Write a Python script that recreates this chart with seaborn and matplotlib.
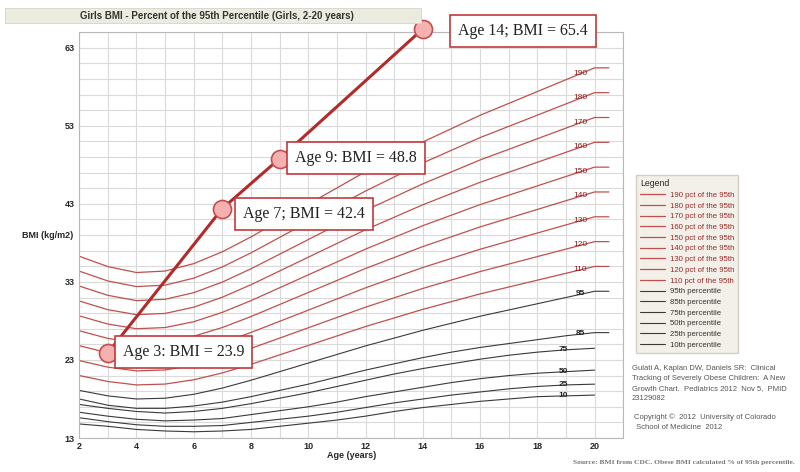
import numpy as np
import pandas as pd
import matplotlib
matplotlib.use("Agg")
import matplotlib.pyplot as plt
import seaborn as sns

# CDC girls BMI percentiles
ages = [2, 3, 4, 5, 6, 7, 8, 9, 10, 11, 12, 13, 14, 15, 16, 17, 18, 19, 20]
p95 = [19.1, 18.4, 18.0, 18.1, 18.6, 19.4, 20.4, 21.5, 22.6, 23.7, 24.8, 25.8, 26.8, 27.7, 28.6, 29.4, 30.2, 31.0, 31.8]
p85 = [18.0, 17.2, 16.8, 16.8, 17.1, 17.6, 18.3, 19.1, 19.9, 20.8, 21.7, 22.5, 23.3, 24.0, 24.6, 25.1, 25.6, 26.1, 26.5]
p75 = [17.3, 16.8, 16.4, 16.2, 16.4, 16.8, 17.4, 18.1, 18.8, 19.6, 20.4, 21.2, 21.9, 22.5, 23.1, 23.6, 24.0, 24.3, 24.5]
p50 = [16.3, 15.8, 15.4, 15.2, 15.3, 15.5, 16.0, 16.5, 17.0, 17.6, 18.3, 18.9, 19.5, 20.1, 20.6, 21.0, 21.3, 21.5, 21.7]
p25 = [15.6, 15.1, 14.7, 14.5, 14.5, 14.6, 15.0, 15.4, 15.8, 16.3, 16.9, 17.5, 18.0, 18.5, 18.9, 19.3, 19.6, 19.8, 19.9]
p10 = [14.8, 14.5, 14.1, 13.9, 13.8, 13.9, 14.1, 14.5, 14.9, 15.3, 15.8, 16.4, 16.9, 17.3, 17.7, 18.0, 18.3, 18.4, 18.5]

pct_of_95 = [190, 180, 170, 160, 150, 140, 130, 120, 110]

# patient
pt_age = [3, 7, 9, 14]
pt_bmi = [23.9, 42.4, 48.8, 65.4]
pt_text = ["Age 3: BMI = 23.9", "Age 7; BMI = 42.4", "Age 9: BMI = 48.8", "Age 14; BMI = 65.4"]

RED = "#c0504d"
DARK = "#3a3a3a"

sns.set_style("white")
plt.rcParams["font.family"] = ["Liberation Sans", "DejaVu Sans"]

fig = plt.figure(figsize=(8, 4.72), dpi=100)
ax = fig.add_axes([0.099, 0.072, 0.68, 0.86])

ext_ages = ages + [20.5]

# red curves: percent of the 95th
for p in pct_of_95:
    vals = [v * p / 100 for v in p95]
    sns.lineplot(x=ext_ages, y=vals + [vals[-1]], color=RED, lw=0.9, ax=ax,
                 label=f"{p} pct of the 95th")
    yl = np.interp(19.5, ages, vals)
    ax.text(19.5, yl + 0.05, str(p), color="#8b1a1a", fontsize=6, ha="center", va="center")

blacks = [("95th", p95, True), ("85th", p85, True), ("75th", p75, False),
          ("50th", p50, False), ("25th", p25, False), ("10th", p10, False)]
for name, vals, ext in blacks:
    xs = ext_ages if ext else ages
    ys = vals + [vals[-1]] if ext else vals
    sns.lineplot(x=xs, y=ys, color=DARK, lw=0.8, ax=ax, label=f"{name} percentile")
    lx = 19.5 if ext else 18.9
    yl = np.interp(lx, ages, vals)
    ax.text(lx, yl + 0.05, name[:-2], color="#222222", fontsize=6, ha="center", va="center",
            fontweight="bold")

# patient trajectory
sns.lineplot(x=pt_age, y=pt_bmi, color="#b22b2b", lw=2.2, ax=ax, zorder=5)
ax.plot(pt_age, pt_bmi, "o", ms=13, mfc="#f7b0b0", mec=RED, mew=1.2, zorder=6, clip_on=False)

box_pos = [(5.64, 24.0), (9.85, 41.7), (11.67, 48.9), (17.5, 65.2)]
for (bx, by), t in zip(box_pos, pt_text):
    ax.text(bx, by, t, family=["Liberation Serif", "DejaVu Serif"], fontsize=11.5,
            ha="center", va="center", color="#222222", zorder=7,
            bbox=dict(boxstyle="square,pad=0.5", fc="white", ec="#c0393b", lw=1.2))

ax.set_xlim(2, 21)
ax.set_ylim(13, 65)
ax.set_xticks(range(2, 21, 2))
ax.set_yticks([13, 23, 33, 43, 53, 63])
ax.set_xticks(range(2, 22), minor=True)
ax.set_yticks(range(13, 66, 2), minor=True)
ax.grid(which="both", color="#dadada", lw=0.8)
ax.set_axisbelow(True)
ax.tick_params(which="both", length=0, labelsize=6.5, pad=3)
for lab in ax.get_xticklabels() + ax.get_yticklabels():
    lab.set_fontweight("bold")
for s in ax.spines.values():
    s.set_color("#b8b8b8")
    s.set_linewidth(0.8)
ax.set_xlabel("")
ax.set_ylabel("")

handles, labels = ax.get_legend_handles_labels()
leg = fig.legend(handles[:15], labels[:15], loc="upper left", bbox_to_anchor=(0.79, 0.637),
                 fontsize=5.6, title="Legend", title_fontsize=6.3, alignment="left",
                 handlelength=3.3, handletextpad=0.6, labelspacing=0.42, frameon=True,
                 fancybox=False, facecolor="#efede3", edgecolor="#c8c6b8", borderpad=0.5)
if ax.get_legend():
    ax.get_legend().remove()
for txt in leg.get_texts():
    txt.set_color("#9c2a2a" if "pct" in txt.get_text() else "#333333")

# title banner
fig.patches.append(plt.Rectangle((0.006, 0.951), 0.52, 0.032, transform=fig.transFigure,
                                 fc="#ecebe0", ec="#d6d4c8", lw=0.6))
fig.text(0.1, 0.967, "Girls BMI - Percent of the 95th Percentile (Girls, 2-20 years)",
         fontsize=7, fontweight="bold", color="#333333", va="center")

fig.text(0.028, 0.502, "BMI (kg/m2)", fontsize=6.5, fontweight="bold", va="center")
fig.text(0.439, 0.034, "Age (years)", fontsize=6.5, fontweight="bold", ha="center", va="center")

fig.text(0.79, 0.226, "Gulati A, Kaplan DW, Daniels SR:  Clinical\nTracking of Severely Obese Children:  A New\n"
         "Growth Chart.  Pediatrics 2012  Nov 5,  PMID\n23129082",
         fontsize=5.5, color="#555555", va="top", linespacing=1.6)
fig.text(0.793, 0.124, "Copyright \u00a9  2012  University of Colorado\n School of Medicine  2012",
         fontsize=5.5, color="#555555", va="top", linespacing=1.6)
fig.text(0.993, 0.02, "Source: BMI from CDC. Obese BMI calculated % of 95th percentile.",
         fontsize=5.4, color="#777777", ha="right", va="center",
         family=["Liberation Serif", "DejaVu Serif"], fontweight="bold")

fig.savefig("out.png", dpi=100)
